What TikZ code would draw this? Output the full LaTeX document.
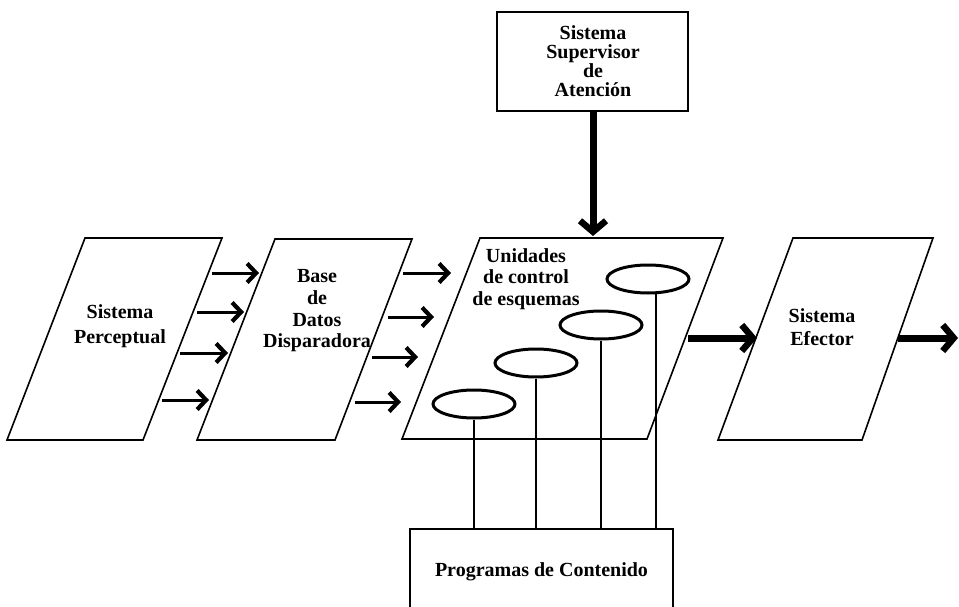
\documentclass[tikz,border=0pt]{standalone}
\usepackage{fontspec}
\setmainfont{Liberation Serif}
\usetikzlibrary{arrows.meta,shapes.geometric}
\begin{document}
\begin{tikzpicture}[x=1pt,y=-1pt,
  box/.style={draw,line width=1.6pt},
  lbl/.style={align=center,inner sep=0pt},
  thinarrow/.style={line width=3pt,-{Straight Barb[length=9pt,width=19pt,line width=4.2pt]}},
  thickarrow/.style={line width=7pt,-{Straight Barb[length=11pt,width=26pt,line width=6.5pt]}},
  unit/.style={draw,ellipse,line width=3pt,minimum width=82pt,minimum height=28pt,inner sep=0pt},
  stem/.style={line width=2pt}]
\useasboundingbox (0,0) rectangle (959,607);
\clip (0,0) rectangle (959,607);
\fill[white] (0,0) rectangle (959,607);

% parallelogram corners
\coordinate (sp-nw) at (85,238);  \coordinate (sp-ne) at (222,238);
\coordinate (sp-se) at (143,440); \coordinate (sp-sw) at (7,440);
\coordinate (bd-nw) at (275,239); \coordinate (bd-ne) at (412,239);
\coordinate (bd-se) at (335,440); \coordinate (bd-sw) at (197,440);
\coordinate (uc-nw) at (480,238); \coordinate (uc-ne) at (723,238);
\coordinate (uc-se) at (647,439); \coordinate (uc-sw) at (402,439);
\coordinate (se-nw) at (793,238); \coordinate (se-ne) at (933,238);
\coordinate (se-se) at (862,440); \coordinate (se-sw) at (718,440);

\draw[box] (sp-nw) -- (sp-ne) -- (sp-se) -- (sp-sw) -- cycle;
\draw[box] (bd-nw) -- (bd-ne) -- (bd-se) -- (bd-sw) -- cycle;
\draw[box] (uc-nw) -- (uc-ne) -- (uc-se) -- (uc-sw) -- cycle;
\draw[box] (se-nw) -- (se-ne) -- (se-se) -- (se-sw) -- cycle;

% labels
\node[lbl,font=\fontsize{20}{25}\selectfont\bfseries] (sp) at (120,326) {Sistema\\Perceptual};
\node[lbl,font=\fontsize{20}{21.7}\selectfont\bfseries] (bd) at (317,311) {Base\\de\\Datos\\Disparadora};
\node[lbl,font=\fontsize{20}{21.5}\selectfont\bfseries] (uc) at (526,279) {Unidades\\de control\\de esquemas};
\node[lbl,font=\fontsize{20}{23}\selectfont\bfseries] (se) at (822,327) {Sistema\\Efector};

% supervisory system
\node[box,minimum width=191pt,minimum height=99pt,inner sep=0pt] (ssa) at (592.5,61.5) {};
\node[lbl,font=\fontsize{20}{19}\selectfont\bfseries] (ssat) at (593,61) {Sistema\\Supervisor\\de\\Atención};
\coordinate (ssa-in) at (593,236);
\draw[thickarrow] (ssa.south -| ssa-in) -- (ssa-in);

% content programs
\node[box,minimum width=263pt,minimum height=86pt,inner sep=0pt,
      font=\fontsize{20}{22}\selectfont\bfseries] (pdc) at (541.5,572) {Programas de Contenido};

% arrows perceptual -> trigger database
\coordinate (a1s) at (212,273); \coordinate (a1e) at (259,273);
\coordinate (a2s) at (197,312); \coordinate (a2e) at (244,312);
\coordinate (a3s) at (180,353); \coordinate (a3e) at (228,353);
\coordinate (a4s) at (162,400); \coordinate (a4e) at (209,400);
\draw[thinarrow] (a1s) -- (a1e);
\draw[thinarrow] (a2s) -- (a2e);
\draw[thinarrow] (a3s) -- (a3e);
\draw[thinarrow] (a4s) -- (a4e);

% arrows trigger database -> schema units
\coordinate (b1s) at (403,273); \coordinate (b1e) at (451,273);
\coordinate (b2s) at (388,317); \coordinate (b2e) at (434,317);
\coordinate (b3s) at (372,357); \coordinate (b3e) at (418,357);
\coordinate (b4s) at (355,402); \coordinate (b4e) at (401,402);
\draw[thinarrow] (b1s) -- (b1e);
\draw[thinarrow] (b2s) -- (b2e);
\draw[thinarrow] (b3s) -- (b3e);
\draw[thinarrow] (b4s) -- (b4e);

% schema units
\node[unit] (e1) at (474,404) {};
\node[unit] (e2) at (536,363) {};
\node[unit] (e3) at (601,325) {};
\node[unit] (e4) at (648,279) {};
\draw[stem] (e1.south) -- (e1.south |- pdc.north);
\draw[stem] (e2.south) -- (e2.south |- pdc.north);
\draw[stem] (e3.south) -- (e3.south |- pdc.north);
\draw[stem] (e4.-62) -- (e4.-62 |- pdc.north);

% effector arrows
\coordinate (c1s) at (688,338); \coordinate (c1e) at (757,338);
\coordinate (c2s) at (898,338); \coordinate (c2e) at (958,338);
\draw[thickarrow] (c1s) -- (c1e);
\draw[thickarrow] (c2s) -- (c2e);
\end{tikzpicture}
\end{document}
